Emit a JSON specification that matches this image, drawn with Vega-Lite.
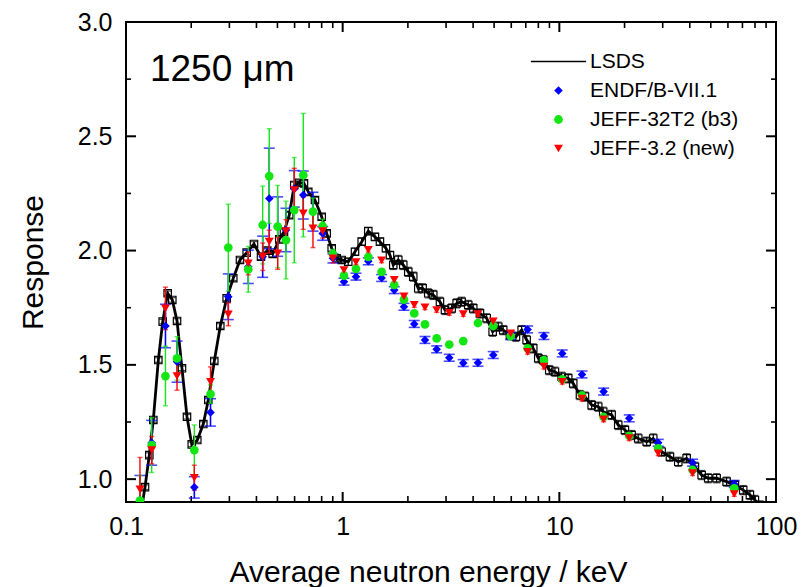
{
  "$schema": "https://vega.github.io/schema/vega-lite/v6.json",
  "autosize": {"type": "none"},
  "padding": {"left": 126, "top": 22, "right": 31, "bottom": 85},
  "width": 650,
  "height": 480,
  "background": "white",
  "config": {
    "view": {"stroke": "black", "strokeWidth": 2},
    "axis": {
      "labelFont": "Liberation Sans",
      "titleFont": "Liberation Sans",
      "labelColor": "black",
      "titleColor": "black",
      "titleFontWeight": "normal",
      "labelFontSize": 25,
      "titleFontSize": 30
    }
  },
  "datasets": {
    "xmajor": [{"E": 0.1}, {"E": 1}, {"E": 10}, {"E": 100}],
    "xminor": [
      {"E": 0.2}, {"E": 0.3}, {"E": 0.4}, {"E": 0.5}, {"E": 0.6}, {"E": 0.7}, {"E": 0.8}, {"E": 0.9},
      {"E": 2}, {"E": 3}, {"E": 4}, {"E": 5}, {"E": 6}, {"E": 7}, {"E": 8}, {"E": 9},
      {"E": 20}, {"E": 30}, {"E": 40}, {"E": 50}, {"E": 60}, {"E": 70}, {"E": 80}, {"E": 90}
    ],
    "ymajor": [{"R": 1.0}, {"R": 1.5}, {"R": 2.0}, {"R": 2.5}, {"R": 3.0}],
    "yminor": [{"R": 1.25}, {"R": 1.75}, {"R": 2.25}, {"R": 2.75}],
    "lsds": [
      {"E": 0.117, "R": 0.85, "err": 0.01},
      {"E": 0.1224, "R": 0.965, "err": 0.01},
      {"E": 0.1281, "R": 1.105, "err": 0.01},
      {"E": 0.1337, "R": 1.259, "err": 0.01},
      {"E": 0.141, "R": 1.521, "err": 0.01},
      {"E": 0.1477, "R": 1.689, "err": 0.01},
      {"E": 0.1557, "R": 1.813, "err": 0.01},
      {"E": 0.1636, "R": 1.784, "err": 0.01},
      {"E": 0.172, "R": 1.692, "err": 0.01},
      {"E": 0.1813, "R": 1.485, "err": 0.01},
      {"E": 0.1912, "R": 1.273, "err": 0.01},
      {"E": 0.2011, "R": 1.152, "err": 0.01},
      {"E": 0.2133, "R": 1.171, "err": 0.01},
      {"E": 0.2274, "R": 1.241, "err": 0.01},
      {"E": 0.2398, "R": 1.346, "err": 0.01},
      {"E": 0.2556, "R": 1.517, "err": 0.01},
      {"E": 0.2724, "R": 1.67, "err": 0.01},
      {"E": 0.2915, "R": 1.791, "err": 0.01},
      {"E": 0.3127, "R": 1.879, "err": 0.01},
      {"E": 0.3358, "R": 1.959, "err": 0.01},
      {"E": 0.3606, "R": 1.991, "err": 0.01},
      {"E": 0.3897, "R": 2.029, "err": 0.01},
      {"E": 0.4198, "R": 1.973, "err": 0.012},
      {"E": 0.4487, "R": 2.0, "err": 0.012},
      {"E": 0.4753, "R": 1.985, "err": 0.012},
      {"E": 0.5097, "R": 2.049, "err": 0.012},
      {"E": 0.5359, "R": 2.082, "err": 0.012},
      {"E": 0.5669, "R": 2.155, "err": 0.012},
      {"E": 0.5979, "R": 2.287, "err": 0.012},
      {"E": 0.6305, "R": 2.297, "err": 0.012},
      {"E": 0.6628, "R": 2.294, "err": 0.012},
      {"E": 0.6939, "R": 2.257, "err": 0.012},
      {"E": 0.745, "R": 2.221, "err": 0.012},
      {"E": 0.8, "R": 2.148, "err": 0.012},
      {"E": 0.8437, "R": 2.075, "err": 0.012},
      {"E": 0.8898, "R": 2.01, "err": 0.012},
      {"E": 0.9383, "R": 1.966, "err": 0.012},
      {"E": 0.9894, "R": 1.959, "err": 0.012},
      {"E": 1.061, "R": 1.951, "err": 0.015},
      {"E": 1.14, "R": 1.995, "err": 0.015},
      {"E": 1.224, "R": 2.039, "err": 0.015},
      {"E": 1.313, "R": 2.085, "err": 0.015},
      {"E": 1.409, "R": 2.06, "err": 0.015},
      {"E": 1.486, "R": 2.039, "err": 0.015},
      {"E": 1.584, "R": 2.01, "err": 0.015},
      {"E": 1.653, "R": 1.98, "err": 0.015},
      {"E": 1.712, "R": 1.937, "err": 0.02},
      {"E": 1.806, "R": 1.959, "err": 0.02},
      {"E": 1.904, "R": 1.937, "err": 0.02},
      {"E": 2.008, "R": 1.907, "err": 0.02},
      {"E": 2.117, "R": 1.886, "err": 0.02},
      {"E": 2.233, "R": 1.835, "err": 0.02},
      {"E": 2.339, "R": 1.835, "err": 0.02},
      {"E": 2.483, "R": 1.813, "err": 0.02},
      {"E": 2.619, "R": 1.806, "err": 0.02},
      {"E": 2.812, "R": 1.776, "err": 0.02},
      {"E": 2.966, "R": 1.74, "err": 0.02},
      {"E": 3.184, "R": 1.747, "err": 0.02},
      {"E": 3.358, "R": 1.769, "err": 0.02},
      {"E": 3.541, "R": 1.776, "err": 0.02},
      {"E": 3.798, "R": 1.762, "err": 0.02},
      {"E": 4.006, "R": 1.747, "err": 0.02},
      {"E": 4.302, "R": 1.725, "err": 0.02},
      {"E": 4.619, "R": 1.704, "err": 0.02},
      {"E": 4.923, "R": 1.645, "err": 0.02},
      {"E": 5.224, "R": 1.667, "err": 0.02},
      {"E": 5.509, "R": 1.652, "err": 0.02},
      {"E": 5.916, "R": 1.63, "err": 0.02},
      {"E": 6.306, "R": 1.623, "err": 0.02},
      {"E": 6.699, "R": 1.652, "err": 0.02},
      {"E": 7.063, "R": 1.609, "err": 0.02},
      {"E": 7.579, "R": 1.572, "err": 0.02},
      {"E": 7.992, "R": 1.529, "err": 0.02},
      {"E": 8.428, "R": 1.521, "err": 0.02},
      {"E": 8.983, "R": 1.477, "err": 0.02},
      {"E": 9.544, "R": 1.47, "err": 0.02},
      {"E": 10.25, "R": 1.448, "err": 0.02},
      {"E": 10.99, "R": 1.441, "err": 0.02},
      {"E": 11.59, "R": 1.419, "err": 0.02},
      {"E": 12.45, "R": 1.368, "err": 0.02},
      {"E": 13.13, "R": 1.361, "err": 0.02},
      {"E": 14.1, "R": 1.324, "err": 0.02},
      {"E": 15.12, "R": 1.317, "err": 0.02},
      {"E": 15.94, "R": 1.295, "err": 0.02},
      {"E": 17.43, "R": 1.281, "err": 0.02},
      {"E": 18.7, "R": 1.237, "err": 0.02},
      {"E": 20.08, "R": 1.215, "err": 0.02},
      {"E": 21.56, "R": 1.193, "err": 0.02},
      {"E": 23.13, "R": 1.178, "err": 0.02},
      {"E": 25.3, "R": 1.164, "err": 0.02},
      {"E": 27.13, "R": 1.178, "err": 0.02},
      {"E": 29.66, "R": 1.12, "err": 0.02},
      {"E": 32.4, "R": 1.098, "err": 0.02},
      {"E": 35.39, "R": 1.076, "err": 0.02},
      {"E": 38.68, "R": 1.091, "err": 0.02},
      {"E": 42.25, "R": 1.054, "err": 0.02},
      {"E": 45.37, "R": 1.018, "err": 0.02},
      {"E": 48.66, "R": 1.004, "err": 0.02},
      {"E": 53.2, "R": 1.004, "err": 0.02},
      {"E": 59.16, "R": 0.989, "err": 0.02},
      {"E": 64.62, "R": 0.974, "err": 0.02},
      {"E": 70.58, "R": 0.952, "err": 0.02},
      {"E": 75.78, "R": 0.931, "err": 0.02},
      {"E": 79.91, "R": 0.909, "err": 0.02},
      {"E": 84.5, "R": 0.885, "err": 0.02}
    ],
    "models": [
      {"series": "ENDF/B-VII.1", "E": 0.116, "R": 0.906, "err": 0.11},
      {"series": "ENDF/B-VII.1", "E": 0.1314, "R": 1.159, "err": 0.098},
      {"series": "ENDF/B-VII.1", "E": 0.1521, "R": 1.67, "err": 0.095},
      {"series": "ENDF/B-VII.1", "E": 0.172, "R": 1.514, "err": 0.09},
      {"series": "ENDF/B-VII.1", "E": 0.2067, "R": 0.964, "err": 0.047},
      {"series": "ENDF/B-VII.1", "E": 0.2455, "R": 1.292, "err": 0.06},
      {"series": "ENDF/B-VII.1", "E": 0.2966, "R": 1.798, "err": 0.1},
      {"series": "ENDF/B-VII.1", "E": 0.3667, "R": 1.929, "err": 0.073},
      {"series": "ENDF/B-VII.1", "E": 0.4274, "R": 1.973, "err": 0.09},
      {"series": "ENDF/B-VII.1", "E": 0.4584, "R": 2.228, "err": 0.22},
      {"series": "ENDF/B-VII.1", "E": 0.5013, "R": 2.105, "err": 0.13},
      {"series": "ENDF/B-VII.1", "E": 0.5474, "R": 2.09, "err": 0.095},
      {"series": "ENDF/B-VII.1", "E": 0.5979, "R": 2.27, "err": 0.08},
      {"series": "ENDF/B-VII.1", "E": 0.6579, "R": 2.243, "err": 0.105},
      {"series": "ENDF/B-VII.1", "E": 0.7295, "R": 2.17, "err": 0.085},
      {"series": "ENDF/B-VII.1", "E": 0.8085, "R": 2.075, "err": 0.03},
      {"series": "ENDF/B-VII.1", "E": 0.902, "R": 1.966, "err": 0.02},
      {"series": "ENDF/B-VII.1", "E": 1.014, "R": 1.864, "err": 0.015},
      {"series": "ENDF/B-VII.1", "E": 1.152, "R": 1.886, "err": 0.015},
      {"series": "ENDF/B-VII.1", "E": 1.313, "R": 1.953, "err": 0.015},
      {"series": "ENDF/B-VII.1", "E": 1.513, "R": 1.88, "err": 0.015},
      {"series": "ENDF/B-VII.1", "E": 1.73, "R": 1.827, "err": 0.015},
      {"series": "ENDF/B-VII.1", "E": 1.918, "R": 1.754, "err": 0.015},
      {"series": "ENDF/B-VII.1", "E": 2.14, "R": 1.679, "err": 0.015},
      {"series": "ENDF/B-VII.1", "E": 2.398, "R": 1.609, "err": 0.015},
      {"series": "ENDF/B-VII.1", "E": 2.716, "R": 1.568, "err": 0.015},
      {"series": "ENDF/B-VII.1", "E": 3.104, "R": 1.531, "err": 0.015},
      {"series": "ENDF/B-VII.1", "E": 3.602, "R": 1.508, "err": 0.015},
      {"series": "ENDF/B-VII.1", "E": 4.211, "R": 1.509, "err": 0.015},
      {"series": "ENDF/B-VII.1", "E": 4.954, "R": 1.543, "err": 0.015},
      {"series": "ENDF/B-VII.1", "E": 5.96, "R": 1.626, "err": 0.015},
      {"series": "ENDF/B-VII.1", "E": 7.14, "R": 1.655, "err": 0.015},
      {"series": "ENDF/B-VII.1", "E": 8.49, "R": 1.626, "err": 0.015},
      {"series": "ENDF/B-VII.1", "E": 10.31, "R": 1.55, "err": 0.015},
      {"series": "ENDF/B-VII.1", "E": 12.72, "R": 1.458, "err": 0.015},
      {"series": "ENDF/B-VII.1", "E": 16.01, "R": 1.383, "err": 0.015},
      {"series": "ENDF/B-VII.1", "E": 21.02, "R": 1.266, "err": 0.015},
      {"series": "ENDF/B-VII.1", "E": 28.61, "R": 1.159, "err": 0.015},
      {"series": "ENDF/B-VII.1", "E": 41.22, "R": 1.072, "err": 0.015},
      {"series": "ENDF/B-VII.1", "E": 64.15, "R": 0.979, "err": 0.015},
      {"series": "JEFF-32T2 (b3)", "E": 0.116, "R": 0.906, "err": 0.11},
      {"series": "JEFF-32T2 (b3)", "E": 0.1314, "R": 1.149, "err": 0.12},
      {"series": "JEFF-32T2 (b3)", "E": 0.1521, "R": 1.451, "err": 0.13},
      {"series": "JEFF-32T2 (b3)", "E": 0.172, "R": 1.528, "err": 0.095},
      {"series": "JEFF-32T2 (b3)", "E": 0.2067, "R": 1.127, "err": 0.11},
      {"series": "JEFF-32T2 (b3)", "E": 0.2455, "R": 1.372, "err": 0.04},
      {"series": "JEFF-32T2 (b3)", "E": 0.2966, "R": 2.013, "err": 0.19},
      {"series": "JEFF-32T2 (b3)", "E": 0.3667, "R": 1.918, "err": 0.1},
      {"series": "JEFF-32T2 (b3)", "E": 0.4274, "R": 2.112, "err": 0.17},
      {"series": "JEFF-32T2 (b3)", "E": 0.4584, "R": 2.326, "err": 0.207},
      {"series": "JEFF-32T2 (b3)", "E": 0.5013, "R": 2.105, "err": 0.18},
      {"series": "JEFF-32T2 (b3)", "E": 0.5474, "R": 2.046, "err": 0.17},
      {"series": "JEFF-32T2 (b3)", "E": 0.5979, "R": 2.177, "err": 0.23},
      {"series": "JEFF-32T2 (b3)", "E": 0.6579, "R": 2.33, "err": 0.27},
      {"series": "JEFF-32T2 (b3)", "E": 0.7295, "R": 2.17, "err": 0.06},
      {"series": "JEFF-32T2 (b3)", "E": 0.8085, "R": 2.107, "err": 0.03},
      {"series": "JEFF-32T2 (b3)", "E": 0.902, "R": 1.985, "err": 0.02},
      {"series": "JEFF-32T2 (b3)", "E": 1.014, "R": 1.89, "err": 0.01},
      {"series": "JEFF-32T2 (b3)", "E": 1.152, "R": 1.92, "err": 0.01},
      {"series": "JEFF-32T2 (b3)", "E": 1.313, "R": 1.972, "err": 0.01},
      {"series": "JEFF-32T2 (b3)", "E": 1.513, "R": 1.907, "err": 0.01},
      {"series": "JEFF-32T2 (b3)", "E": 1.73, "R": 1.85, "err": 0.01},
      {"series": "JEFF-32T2 (b3)", "E": 1.918, "R": 1.785, "err": 0.01},
      {"series": "JEFF-32T2 (b3)", "E": 2.14, "R": 1.725, "err": 0.01},
      {"series": "JEFF-32T2 (b3)", "E": 2.398, "R": 1.677, "err": 0.01},
      {"series": "JEFF-32T2 (b3)", "E": 2.716, "R": 1.616, "err": 0.01},
      {"series": "JEFF-32T2 (b3)", "E": 3.104, "R": 1.589, "err": 0.01},
      {"series": "JEFF-32T2 (b3)", "E": 3.602, "R": 1.604, "err": 0.01},
      {"series": "JEFF-32T2 (b3)", "E": 4.211, "R": 1.683, "err": 0.01},
      {"series": "JEFF-32T2 (b3)", "E": 4.954, "R": 1.67, "err": 0.01},
      {"series": "JEFF-32T2 (b3)", "E": 5.96, "R": 1.626, "err": 0.01},
      {"series": "JEFF-32T2 (b3)", "E": 7.14, "R": 1.572, "err": 0.01},
      {"series": "JEFF-32T2 (b3)", "E": 8.49, "R": 1.521, "err": 0.01},
      {"series": "JEFF-32T2 (b3)", "E": 10.31, "R": 1.437, "err": 0.01},
      {"series": "JEFF-32T2 (b3)", "E": 12.72, "R": 1.366, "err": 0.01},
      {"series": "JEFF-32T2 (b3)", "E": 16.01, "R": 1.272, "err": 0.01},
      {"series": "JEFF-32T2 (b3)", "E": 21.02, "R": 1.189, "err": 0.01},
      {"series": "JEFF-32T2 (b3)", "E": 28.61, "R": 1.135, "err": 0.01},
      {"series": "JEFF-32T2 (b3)", "E": 41.22, "R": 1.04, "err": 0.01},
      {"series": "JEFF-32T2 (b3)", "E": 64.15, "R": 0.96, "err": 0.01},
      {"series": "JEFF-3.2 (new)", "E": 0.116, "R": 0.955, "err": 0.14},
      {"series": "JEFF-3.2 (new)", "E": 0.1314, "R": 1.127, "err": 0.06},
      {"series": "JEFF-3.2 (new)", "E": 0.1521, "R": 1.747, "err": 0.093},
      {"series": "JEFF-3.2 (new)", "E": 0.172, "R": 1.451, "err": 0.062},
      {"series": "JEFF-3.2 (new)", "E": 0.2067, "R": 1.006, "err": 0.055},
      {"series": "JEFF-3.2 (new)", "E": 0.2455, "R": 1.426, "err": 0.065},
      {"series": "JEFF-3.2 (new)", "E": 0.2966, "R": 1.721, "err": 0.05},
      {"series": "JEFF-3.2 (new)", "E": 0.3667, "R": 1.944, "err": 0.05},
      {"series": "JEFF-3.2 (new)", "E": 0.4274, "R": 1.973, "err": 0.06},
      {"series": "JEFF-3.2 (new)", "E": 0.4584, "R": 2.039, "err": 0.05},
      {"series": "JEFF-3.2 (new)", "E": 0.5013, "R": 1.988, "err": 0.07},
      {"series": "JEFF-3.2 (new)", "E": 0.5474, "R": 2.085, "err": 0.05},
      {"series": "JEFF-3.2 (new)", "E": 0.5979, "R": 2.265, "err": 0.095},
      {"series": "JEFF-3.2 (new)", "E": 0.6579, "R": 2.163, "err": 0.07},
      {"series": "JEFF-3.2 (new)", "E": 0.7295, "R": 2.097, "err": 0.084},
      {"series": "JEFF-3.2 (new)", "E": 0.8085, "R": 2.085, "err": 0.03},
      {"series": "JEFF-3.2 (new)", "E": 0.902, "R": 1.966, "err": 0.02},
      {"series": "JEFF-3.2 (new)", "E": 1.014, "R": 1.915, "err": 0.01},
      {"series": "JEFF-3.2 (new)", "E": 1.152, "R": 1.949, "err": 0.01},
      {"series": "JEFF-3.2 (new)", "E": 1.313, "R": 2.003, "err": 0.01},
      {"series": "JEFF-3.2 (new)", "E": 1.513, "R": 1.957, "err": 0.01},
      {"series": "JEFF-3.2 (new)", "E": 1.73, "R": 1.872, "err": 0.01},
      {"series": "JEFF-3.2 (new)", "E": 1.918, "R": 1.8, "err": 0.01},
      {"series": "JEFF-3.2 (new)", "E": 2.14, "R": 1.762, "err": 0.01},
      {"series": "JEFF-3.2 (new)", "E": 2.398, "R": 1.752, "err": 0.01},
      {"series": "JEFF-3.2 (new)", "E": 2.716, "R": 1.74, "err": 0.01},
      {"series": "JEFF-3.2 (new)", "E": 3.104, "R": 1.727, "err": 0.01},
      {"series": "JEFF-3.2 (new)", "E": 3.602, "R": 1.722, "err": 0.01},
      {"series": "JEFF-3.2 (new)", "E": 4.211, "R": 1.722, "err": 0.01},
      {"series": "JEFF-3.2 (new)", "E": 4.954, "R": 1.69, "err": 0.01},
      {"series": "JEFF-3.2 (new)", "E": 5.96, "R": 1.638, "err": 0.01},
      {"series": "JEFF-3.2 (new)", "E": 7.14, "R": 1.557, "err": 0.01},
      {"series": "JEFF-3.2 (new)", "E": 8.49, "R": 1.492, "err": 0.01},
      {"series": "JEFF-3.2 (new)", "E": 10.31, "R": 1.426, "err": 0.01},
      {"series": "JEFF-3.2 (new)", "E": 12.72, "R": 1.352, "err": 0.01},
      {"series": "JEFF-3.2 (new)", "E": 16.01, "R": 1.261, "err": 0.01},
      {"series": "JEFF-3.2 (new)", "E": 21.02, "R": 1.179, "err": 0.01},
      {"series": "JEFF-3.2 (new)", "E": 28.61, "R": 1.113, "err": 0.01},
      {"series": "JEFF-3.2 (new)", "E": 41.22, "R": 1.026, "err": 0.01},
      {"series": "JEFF-3.2 (new)", "E": 64.15, "R": 0.935, "err": 0.01}
    ],
    "note": [{"E": 0.129, "R": 2.74, "t": "1250 μm"}]
  },
  "resolve": {"axis": {"x": "independent", "y": "independent"}},
  "layer": [
    {
      "data": {"name": "lsds"},
      "mark": {"type": "line", "color": "black", "strokeWidth": 2.8, "clip": true},
      "encoding": {
        "x": {
          "field": "E", "type": "quantitative",
          "scale": {"type": "log", "domain": [0.1, 100], "nice": false},
          "axis": {
            "orient": "bottom", "grid": false, "domain": false, "ticks": false,
            "values": [0.1, 1, 10, 100],
            "labelExpr": "datum.value === 0.1 ? '0.1' : format(datum.value, 'd')",
            "labelFlush": false, "labelOverlap": false,
            "labelPadding": 12,
            "title": "Average neutron energy / keV",
            "titleX": 302, "titleY": 70,
            "titleAlign": "center", "titleBaseline": "middle"
          }
        },
        "y": {
          "field": "R", "type": "quantitative",
          "scale": {"domain": [0.9, 3.0], "nice": false, "zero": false},
          "axis": {
            "orient": "left", "grid": false, "domain": false, "ticks": false,
            "values": [1, 1.5, 2, 2.5, 3],
            "format": ".1f",
            "labelFlush": false, "labelOverlap": false,
            "labelPadding": 14,
            "title": "Response",
            "titleX": -93, "titleY": 240,
            "titleAlign": "center", "titleBaseline": "middle"
          }
        }
      }
    },
    {
      "data": {"name": "xmajor"},
      "mark": {"type": "tick", "orient": "vertical", "color": "black", "size": 20, "thickness": 2, "opacity": 1, "clip": true},
      "encoding": {
        "x": {"field": "E", "type": "quantitative", "axis": null},
        "y": {"datum": 0.9, "type": "quantitative", "axis": null}
      }
    },
    {
      "data": {"name": "xmajor"},
      "mark": {"type": "tick", "orient": "vertical", "color": "black", "size": 20, "thickness": 2, "opacity": 1, "clip": true},
      "encoding": {
        "x": {"field": "E", "type": "quantitative", "axis": null},
        "y": {"datum": 3.0, "type": "quantitative", "axis": null}
      }
    },
    {
      "data": {"name": "xminor"},
      "mark": {"type": "tick", "orient": "vertical", "color": "black", "size": 12, "thickness": 1.6, "opacity": 1, "clip": true},
      "encoding": {
        "x": {"field": "E", "type": "quantitative", "axis": null},
        "y": {"datum": 0.9, "type": "quantitative", "axis": null}
      }
    },
    {
      "data": {"name": "xminor"},
      "mark": {"type": "tick", "orient": "vertical", "color": "black", "size": 12, "thickness": 1.6, "opacity": 1, "clip": true},
      "encoding": {
        "x": {"field": "E", "type": "quantitative", "axis": null},
        "y": {"datum": 3.0, "type": "quantitative", "axis": null}
      }
    },
    {
      "data": {"name": "ymajor"},
      "mark": {"type": "tick", "orient": "horizontal", "color": "black", "size": 20, "thickness": 2, "opacity": 1, "clip": true},
      "encoding": {
        "y": {"field": "R", "type": "quantitative", "axis": null},
        "x": {"datum": 0.1, "type": "quantitative", "axis": null}
      }
    },
    {
      "data": {"name": "ymajor"},
      "mark": {"type": "tick", "orient": "horizontal", "color": "black", "size": 20, "thickness": 2, "opacity": 1, "clip": true},
      "encoding": {
        "y": {"field": "R", "type": "quantitative", "axis": null},
        "x": {"datum": 100, "type": "quantitative", "axis": null}
      }
    },
    {
      "data": {"name": "yminor"},
      "mark": {"type": "tick", "orient": "horizontal", "color": "black", "size": 10, "thickness": 1.6, "opacity": 1, "clip": true},
      "encoding": {
        "y": {"field": "R", "type": "quantitative", "axis": null},
        "x": {"datum": 0.1, "type": "quantitative", "axis": null}
      }
    },
    {
      "data": {"name": "yminor"},
      "mark": {"type": "tick", "orient": "horizontal", "color": "black", "size": 10, "thickness": 1.6, "opacity": 1, "clip": true},
      "encoding": {
        "y": {"field": "R", "type": "quantitative", "axis": null},
        "x": {"datum": 100, "type": "quantitative", "axis": null}
      }
    },
    {
      "data": {"name": "lsds"},
      "mark": {"type": "errorbar", "color": "black", "thickness": 1.2, "ticks": {"size": 7}, "clip": true},
      "encoding": {
        "x": {"field": "E", "type": "quantitative", "axis": null},
        "y": {"field": "R", "type": "quantitative", "axis": null},
        "yError": {"field": "err"}
      }
    },
    {
      "data": {"name": "lsds"},
      "mark": {"type": "point", "shape": "square", "filled": false, "color": "black", "size": 55, "strokeWidth": 1.2, "opacity": 1, "clip": true},
      "encoding": {
        "x": {"field": "E", "type": "quantitative", "axis": null},
        "y": {"field": "R", "type": "quantitative", "axis": null}
      }
    },
    {
      "data": {"name": "models"},
      "transform": [{"filter": "datum.series === 'ENDF/B-VII.1'"}],
      "mark": {"type": "errorbar", "color": "#0000ff", "thickness": 1.6, "ticks": {"size": 11}, "clip": true},
      "encoding": {
        "x": {"field": "E", "type": "quantitative", "axis": null},
        "y": {"field": "R", "type": "quantitative", "axis": null},
        "yError": {"field": "err"}
      }
    },
    {
      "data": {"name": "models"},
      "transform": [{"filter": "datum.series === 'JEFF-32T2 (b3)'"}],
      "mark": {"type": "errorbar", "color": "#14e614", "thickness": 1.4, "ticks": {"size": 5}, "clip": true},
      "encoding": {
        "x": {"field": "E", "type": "quantitative", "axis": null},
        "y": {"field": "R", "type": "quantitative", "axis": null},
        "yError": {"field": "err"}
      }
    },
    {
      "data": {"name": "models"},
      "transform": [{"filter": "datum.series === 'JEFF-3.2 (new)'"}],
      "mark": {"type": "errorbar", "color": "#ff0000", "thickness": 1.4, "ticks": {"size": 5}, "clip": true},
      "encoding": {
        "x": {"field": "E", "type": "quantitative", "axis": null},
        "y": {"field": "R", "type": "quantitative", "axis": null},
        "yError": {"field": "err"}
      }
    },
    {
      "data": {"name": "models"},
      "mark": {"type": "point", "filled": true, "opacity": 1, "clip": true},
      "encoding": {
        "x": {"field": "E", "type": "quantitative", "axis": null},
        "y": {"field": "R", "type": "quantitative", "axis": null},
        "color": {
          "field": "series", "type": "nominal",
          "scale": {"domain": ["LSDS", "ENDF/B-VII.1", "JEFF-32T2 (b3)", "JEFF-3.2 (new)"], "range": ["#000000", "#0000ff", "#14e614", "#ff0000"]},
          "legend": {
            "orient": "none",
            "legendX": 422,
            "legendY": 29,
            "title": null,
            "labelFont": "Liberation Sans",
            "labelFontSize": 21,
            "labelColor": "black",
            "labelOffset": 21,
            "rowPadding": 7
          }
        },
        "shape": {
          "field": "series", "type": "nominal",
          "scale": {"domain": ["LSDS", "ENDF/B-VII.1", "JEFF-32T2 (b3)", "JEFF-3.2 (new)"], "range": ["M-6.6,-0.16L6.6,-0.16L6.6,0.16L-6.6,0.16Z", "diamond", "circle", "triangle-down"]}
        },
        "size": {
          "field": "series", "type": "nominal",
          "scale": {"domain": ["LSDS", "ENDF/B-VII.1", "JEFF-32T2 (b3)", "JEFF-3.2 (new)"], "range": [70, 80, 80, 110]}
        }
      }
    },
    {
      "data": {"name": "note"},
      "mark": {"type": "text", "font": "Liberation Sans", "fontSize": 37, "align": "left", "baseline": "alphabetic", "color": "black"},
      "encoding": {
        "x": {"field": "E", "type": "quantitative", "axis": null},
        "y": {"field": "R", "type": "quantitative", "axis": null},
        "text": {"field": "t"}
      }
    }
  ]
}
